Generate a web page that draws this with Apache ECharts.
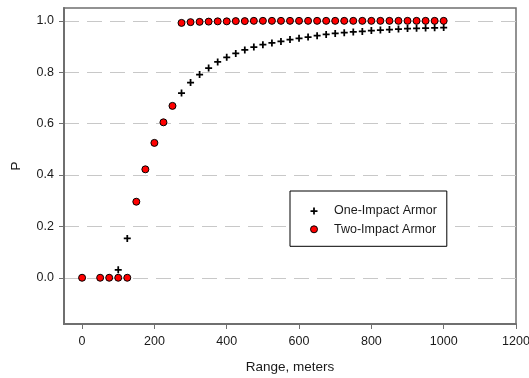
<!DOCTYPE html>
<html>
<head>
<meta charset="utf-8">
<script src="https://cdn.jsdelivr.net/npm/echarts@6/dist/echarts.min.js"></script>
<style>
  html, body { margin: 0; padding: 0; background: #ffffff; }
  #chart { width: 529px; height: 378px; }
</style>
</head>
<body>
<div id="chart"></div>
<script>
// Probability of defeat vs. range for the two armor types
const rangeOne = [100, 125, 275, 300, 325, 350, 375, 400, 425, 450, 475, 500, 525, 550, 575, 600,
  625, 650, 675, 700, 725, 750, 775, 800, 825, 850, 875, 900, 925, 950, 975, 1000];
const pOne = [0.031, 0.153, 0.719, 0.760, 0.791, 0.816, 0.840, 0.858, 0.873, 0.887, 0.898, 0.907,
  0.914, 0.920, 0.927, 0.932, 0.937, 0.942, 0.947, 0.951, 0.954, 0.957, 0.959, 0.962, 0.964, 0.966,
  0.968, 0.970, 0.971, 0.972, 0.973, 0.974];

const rangeTwo = [0, 50, 75, 100, 125, 150, 175, 200, 225, 250, 275, 300, 325, 350, 375, 400, 425,
  450, 475, 500, 525, 550, 575, 600, 625, 650, 675, 700, 725, 750, 775, 800, 825, 850, 875, 900,
  925, 950, 975, 1000];
const pTwo = [0, 0, 0, 0, 0, 0.296, 0.422, 0.525, 0.605, 0.669, 0.992, 0.995, 0.996, 0.997, 0.998,
  0.998, 0.999, 0.999, 1, 1, 1, 1, 1, 1, 1, 1, 1, 1, 1, 1, 1, 1, 1, 1, 1, 1, 1, 1, 1, 1];

const xTicks = [0, 200, 400, 600, 800, 1000, 1200];
const yTicks = [0, 0.2, 0.4, 0.6, 0.8, 1.0];

const seriesNames = ['One-Impact Armor', 'Two-Impact Armor'];

const FONT = "'Liberation Sans', Arial, sans-serif";
const AXIS_GRAY = '#6f6f6f';
const PLUS = 'path://M3,0H5V3H8V5H5V8H3V5H0V3H3Z';

const zip = (xs, ys) => xs.map((x, i) => [x, ys[i]]);

const chart = echarts.init(document.getElementById('chart'), null, { renderer: 'canvas' });

chart.setOption({
  animation: false,
  backgroundColor: '#ffffff',
  grid: {
    left: 64, top: 8, right: 13, bottom: 54,
    outerBoundsMode: 'none',
    containLabel: false,
    show: true, borderColor: AXIS_GRAY, borderWidth: 1.5, backgroundColor: 'transparent'
  },
  xAxis: {
    type: 'value',
    min: -50, max: 1200,
    splitNumber: 6,
    name: 'Range, meters',
    nameLocation: 'middle',
    nameGap: 36,
    nameTextStyle: { fontFamily: FONT, fontSize: 13.5, color: '#1a1a1a' },
    axisLine: { show: true, onZero: false, lineStyle: { color: AXIS_GRAY, width: 2 } },
    axisTick: { show: true, inside: false, length: 5, customValues: xTicks,
      lineStyle: { color: AXIS_GRAY, width: 1 } },
    axisLabel: { customValues: xTicks, margin: 11, fontFamily: FONT, fontSize: 12.5, color: '#1a1a1a',
      formatter: v => String(v) },
    splitLine: { show: false }
  },
  yAxis: {
    type: 'value',
    min: -0.18, max: 1.05,
    name: 'P',
    nameLocation: 'middle',
    nameGap: 41,
    nameTextStyle: { fontFamily: FONT, fontSize: 13.5, color: '#1a1a1a' },
    axisLine: { show: true, onZero: false, lineStyle: { color: AXIS_GRAY, width: 2 } },
    axisTick: { show: true, inside: false, length: 5, customValues: yTicks,
      lineStyle: { color: AXIS_GRAY, width: 1 } },
    axisLabel: { customValues: yTicks, margin: 10, fontFamily: FONT, fontSize: 12.5, color: '#1a1a1a',
      formatter: v => v.toFixed(1) },
    splitLine: { show: true, lineStyle: { color: '#c8c8c8', width: 1, type: [15, 8] } }
  },
  legend: {
    orient: 'vertical',
    left: 290, top: 191,
    padding: [13, 10, 10, 20],
    itemWidth: 30, itemHeight: 7, itemGap: 4.3,
    backgroundColor: '#ffffff',
    borderColor: '#000000', borderWidth: 1, borderRadius: 0,
    textStyle: { fontFamily: FONT, fontSize: 12.5, color: '#1a1a1a', lineHeight: 14 },
    data: [
      { name: seriesNames[0], icon: PLUS, itemStyle: { color: '#000000', borderWidth: 0 } },
      { name: seriesNames[1], icon: 'circle', itemStyle: { color: '#ff0000', borderColor: '#000000', borderWidth: 1 } }
    ]
  },
  series: [
    {
      name: seriesNames[0],
      type: 'scatter',
      symbol: PLUS,
      symbolSize: 7,
      itemStyle: { color: '#000000', opacity: 1 },
      data: zip(rangeOne, pOne),
      z: 2
    },
    {
      name: seriesNames[1],
      type: 'scatter',
      symbol: 'circle',
      symbolSize: 7,
      itemStyle: { color: '#ff0000', borderColor: '#000000', borderWidth: 1, opacity: 1 },
      data: zip(rangeTwo, pTwo),
      z: 3
    }
  ]
});
</script>
</body>
</html>
